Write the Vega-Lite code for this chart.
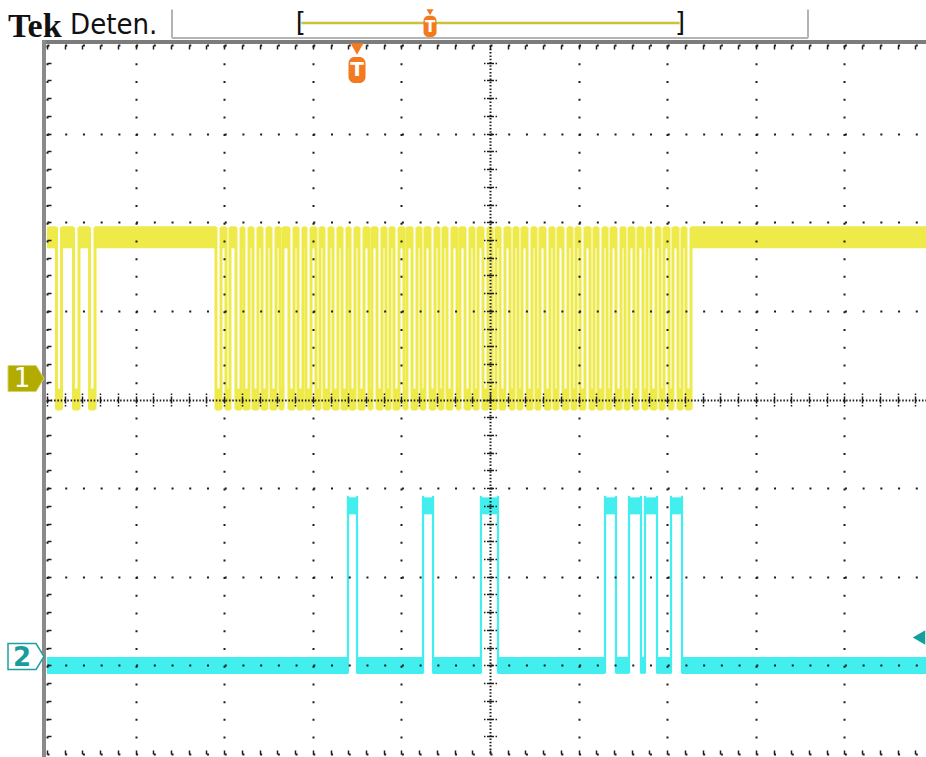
{
  "$schema": "https://vega.github.io/schema/vega-lite/v6.json",
  "width": 879,
  "height": 709,
  "autosize": {"type": "none"},
  "padding": {"left": 47, "top": 45, "right": 0, "bottom": 3},
  "background": "#ffffff",
  "config": {"view": {"stroke": null}},
  "datasets": {
    "ch1": [
      {"t": 0, "v": 1.83}, {"t": 0.107, "v": 0}, {"t": 0.164, "v": 1.83}, {"t": 0.299, "v": 0}, {"t": 0.361, "v": 1.83}, {"t": 0.48, "v": 0}, {"t": 0.542, "v": 1.83},
      {"t": 1.907, "v": 0}, {"t": 1.964, "v": 1.83}, {"t": 2.02, "v": 0}, {"t": 2.065, "v": 1.83}, {"t": 2.133, "v": 0}, {"t": 2.19, "v": 1.83}, {"t": 2.223, "v": 0}, {"t": 2.28, "v": 1.83}, {"t": 2.325, "v": 0}, {"t": 2.381, "v": 1.83},
      {"t": 2.427, "v": 0}, {"t": 2.483, "v": 1.83}, {"t": 2.528, "v": 0}, {"t": 2.585, "v": 1.83}, {"t": 2.63, "v": 0}, {"t": 2.664, "v": 1.83}, {"t": 2.731, "v": 0}, {"t": 2.788, "v": 1.83}, {"t": 2.833, "v": 0}, {"t": 2.889, "v": 1.83},
      {"t": 2.923, "v": 0}, {"t": 2.98, "v": 1.83}, {"t": 3.036, "v": 0}, {"t": 3.081, "v": 1.83}, {"t": 3.126, "v": 0}, {"t": 3.183, "v": 1.83}, {"t": 3.228, "v": 0}, {"t": 3.284, "v": 1.83}, {"t": 3.33, "v": 0}, {"t": 3.386, "v": 1.83},
      {"t": 3.42, "v": 0}, {"t": 3.476, "v": 1.83}, {"t": 3.521, "v": 0}, {"t": 3.578, "v": 1.83}, {"t": 3.634, "v": 0}, {"t": 3.668, "v": 1.83}, {"t": 3.725, "v": 0}, {"t": 3.781, "v": 1.83}, {"t": 3.826, "v": 0}, {"t": 3.871, "v": 1.83},
      {"t": 3.916, "v": 0}, {"t": 3.973, "v": 1.83}, {"t": 4.029, "v": 0}, {"t": 4.063, "v": 1.83}, {"t": 4.12, "v": 0}, {"t": 4.176, "v": 1.83}, {"t": 4.221, "v": 0}, {"t": 4.266, "v": 1.83}, {"t": 4.323, "v": 0}, {"t": 4.379, "v": 1.83},
      {"t": 4.424, "v": 0}, {"t": 4.47, "v": 1.83}, {"t": 4.515, "v": 0}, {"t": 4.571, "v": 1.83}, {"t": 4.628, "v": 0}, {"t": 4.661, "v": 1.83}, {"t": 4.718, "v": 0}, {"t": 4.774, "v": 1.83}, {"t": 4.819, "v": 0}, {"t": 4.865, "v": 1.83},
      {"t": 4.921, "v": 0}, {"t": 4.977, "v": 1.83}, {"t": 5.023, "v": 0}, {"t": 5.068, "v": 1.83}, {"t": 5.113, "v": 0}, {"t": 5.169, "v": 1.83}, {"t": 5.226, "v": 0}, {"t": 5.271, "v": 1.83}, {"t": 5.316, "v": 0}, {"t": 5.361, "v": 1.83},
      {"t": 5.418, "v": 0}, {"t": 5.474, "v": 1.83}, {"t": 5.519, "v": 0}, {"t": 5.564, "v": 1.83}, {"t": 5.621, "v": 0}, {"t": 5.677, "v": 1.83}, {"t": 5.722, "v": 0}, {"t": 5.767, "v": 1.83}, {"t": 5.824, "v": 0}, {"t": 5.88, "v": 1.83},
      {"t": 5.926, "v": 0}, {"t": 5.971, "v": 1.83}, {"t": 6.016, "v": 0}, {"t": 6.072, "v": 1.83}, {"t": 6.129, "v": 0}, {"t": 6.174, "v": 1.83}, {"t": 6.219, "v": 0}, {"t": 6.275, "v": 1.83}, {"t": 6.321, "v": 0}, {"t": 6.366, "v": 1.83},
      {"t": 6.422, "v": 0}, {"t": 6.479, "v": 1.83}, {"t": 6.524, "v": 0}, {"t": 6.569, "v": 1.83}, {"t": 6.625, "v": 0}, {"t": 6.67, "v": 1.83}, {"t": 6.727, "v": 0}, {"t": 6.772, "v": 1.83}, {"t": 6.817, "v": 0}, {"t": 6.874, "v": 1.83},
      {"t": 6.919, "v": 0}, {"t": 6.964, "v": 1.83}, {"t": 7.02, "v": 0}, {"t": 7.065, "v": 1.83}, {"t": 7.122, "v": 0}, {"t": 7.167, "v": 1.83}, {"t": 7.212, "v": 0}, {"t": 7.269, "v": 1.83},
      {"t": 9.93, "v": 1.83}
    ],
    "ch2": [
      {"t": 0, "v": -3},
      {"t": 3.397, "v": -1.2}, {"t": 3.499, "v": -3}, {"t": 4.244, "v": -1.2}, {"t": 4.357, "v": -3},
      {"t": 4.898, "v": -1.2}, {"t": 5.09, "v": -3},
      {"t": 6.298, "v": -1.2}, {"t": 6.422, "v": -3}, {"t": 6.569, "v": -1.2}, {"t": 6.704, "v": -3},
      {"t": 6.749, "v": -1.2}, {"t": 6.885, "v": -3}, {"t": 7.043, "v": -1.2}, {"t": 7.167, "v": -3},
      {"t": 9.93, "v": -3}
    ]
  },
  "resolve": {"axis": {"x": "independent", "y": "independent"}},
  "layer": [
    {
      "data": {"name": "ch1"},
      "transform": [
        {"window": [{"op": "lead", "field": "t", "as": "t1"}], "sort": [{"field": "t"}]},
        {"filter": "datum.t1 != null"}
      ],
      "mark": {"type": "rect", "color": "#eeea4a", "yOffset": -11, "y2Offset": 11},
      "encoding": {
        "x": {
          "field": "t", "type": "quantitative",
          "scale": {"domain": [0, 9.921], "nice": false, "zero": false},
          "axis": {
            "orient": "bottom",
            "values": [0, 0.2, 0.4, 0.6, 0.8, 1, 1.2, 1.4, 1.6, 1.8, 2, 2.2, 2.4, 2.6, 2.8, 3, 3.2, 3.4, 3.6, 3.8, 4, 4.2, 4.4, 4.6, 4.8, 5, 5.2, 5.4, 5.6, 5.8, 6, 6.2, 6.4, 6.6, 6.8, 7, 7.2, 7.4, 7.6, 7.8, 8, 8.2, 8.4, 8.6, 8.8, 9, 9.2, 9.4, 9.6, 9.8],
            "grid": true, "gridColor": "#1c1c1c", "gridWidth": 1.5,
            "gridDash": [4, 344, 1.5, 1.5, 7, 1.5, 1.5, 344, 4],
            "domain": false, "ticks": false, "labels": false, "title": null, "zindex": 1
          }
        },
        "x2": {"field": "t1"},
        "y": {
          "field": "v", "type": "quantitative",
          "scale": {"domain": [-4, 4], "nice": false, "zero": false},
          "axis": {
            "orient": "left",
            "values": [-3.8, -3.6, -3.4, -3.2, -3, -2.8, -2.6, -2.4, -2.2, -2, -1.8, -1.6, -1.4, -1.2, -1, -0.8, -0.6, -0.4, -0.2, 0, 0.2, 0.4, 0.6, 0.8, 1, 1.2, 1.4, 1.6, 1.8, 2, 2.2, 2.4, 2.6, 2.8, 3, 3.2, 3.4, 3.6, 3.8],
            "grid": true, "gridColor": "#1c1c1c", "gridWidth": 1.5,
            "gridDash": [4, 432.5, 1.5, 1.5, 7, 1.5, 1.5, 2000],
            "domain": false, "ticks": false, "labels": false, "title": null, "zindex": 1
          }
        },
        "y2": {"field": "v"}
      }
    },
    {
      "data": {"name": "ch1"},
      "transform": [
        {"window": [{"op": "lag", "field": "v", "as": "pv"}], "sort": [{"field": "t"}]},
        {"filter": "datum.pv != null && abs(datum.v - datum.pv) > 0.5"}
      ],
      "mark": {"type": "rule", "color": "#eeea4a", "strokeWidth": 3, "yOffset": 10, "y2Offset": -10},
      "encoding": {
        "x": {"field": "t", "type": "quantitative", "axis": null},
        "y": {"datum": 0, "axis": null},
        "y2": {"datum": 1.83}
      }
    },
    {
      "data": {"name": "ch2"},
      "transform": [
        {"window": [{"op": "lead", "field": "t", "as": "t1"}], "sort": [{"field": "t"}]},
        {"filter": "datum.t1 != null"}
      ],
      "mark": {"type": "rect", "color": "#42eeee", "yOffset": -8.5, "y2Offset": 8.5},
      "encoding": {
        "x": {
          "field": "t", "type": "quantitative",
          "scale": {"domain": [0, 9.921], "nice": false, "zero": false},
          "axis": {
            "orient": "bottom",
            "values": [0, 1, 2, 3, 4, 5, 6, 7, 8, 9],
            "grid": true, "gridColor": "#1c1c1c", "gridWidth": 2,
            "gridDash": {"condition": {"test": "datum.value == 5", "value": [1.5, 1.8]}, "value": [2, 15.72]},
            "domain": false, "ticks": false, "labels": false, "title": null, "zindex": 1
          }
        },
        "x2": {"field": "t1"},
        "y": {
          "field": "v", "type": "quantitative",
          "scale": {"domain": [-4, 4], "nice": false, "zero": false},
          "axis": {
            "orient": "left",
            "values": [-4, -3, -2, -1, 0, 1, 2, 3, 4],
            "grid": true, "gridColor": "#1c1c1c", "gridWidth": 2,
            "gridDash": {"condition": {"test": "datum.value == 0", "value": [1.5, 1.8]}, "value": [2, 15.72]},
            "domain": false, "ticks": false, "labels": false, "title": null, "zindex": 1
          }
        },
        "y2": {"field": "v"}
      }
    },
    {
      "data": {"name": "ch2"},
      "transform": [
        {"window": [{"op": "lag", "field": "v", "as": "pv"}], "sort": [{"field": "t"}]},
        {"filter": "datum.pv != null && abs(datum.v - datum.pv) > 0.5"}
      ],
      "mark": {"type": "rule", "color": "#42eeee", "strokeWidth": 2.2, "yOffset": 8, "y2Offset": -10},
      "encoding": {
        "x": {"field": "t", "type": "quantitative", "axis": null},
        "y": {"datum": -3, "axis": null},
        "y2": {"datum": -1.2}
      }
    },
    {
      "data": {"values": [{}]},
      "mark": {"type": "rule", "color": "#7c7c7c", "strokeWidth": 4, "yOffset": -3, "xOffset": -5},
      "encoding": {
        "x": {"datum": 0, "axis": null},
        "x2": {"datum": 9.921},
        "y": {"datum": 4, "axis": null}
      }
    },
    {
      "data": {"values": [{}]},
      "mark": {"type": "rule", "color": "#8a8a8a", "strokeWidth": 4, "xOffset": -3, "yOffset": -5, "y2Offset": 8},
      "encoding": {
        "x": {"datum": 0, "axis": null},
        "y": {"datum": 4, "axis": null},
        "y2": {"datum": -4}
      }
    },
    {
      "data": {"values": [{}]},
      "mark": {"type": "point", "shape": "M-1,-0.72L0.56,-0.72L1,0L0.56,0.72L-1,0.72Z", "size": 1296, "filled": true, "fill": "#b2ab00", "stroke": "#d8d26a", "strokeWidth": 1, "opacity": 1, "xOffset": -21},
      "encoding": {"x": {"datum": 0, "axis": null}, "y": {"datum": 0.237, "axis": null}}
    },
    {
      "data": {"values": [{}]},
      "mark": {"type": "text", "text": "1", "color": "#ffffff", "font": "DejaVu Sans", "fontSize": 26, "align": "center", "baseline": "middle", "xOffset": -25, "yOffset": 1},
      "encoding": {"x": {"datum": 0, "axis": null}, "y": {"datum": 0.237, "axis": null}}
    },
    {
      "data": {"values": [{}]},
      "mark": {"type": "point", "shape": "M-1,-0.72L0.56,-0.72L1,0L0.56,0.72L-1,0.72Z", "size": 1296, "filled": true, "fill": "#ffffff", "stroke": "#1ea0a0", "strokeWidth": 1.5, "opacity": 1, "xOffset": -21},
      "encoding": {"x": {"datum": 0, "axis": null}, "y": {"datum": -2.9, "axis": null}}
    },
    {
      "data": {"values": [{}]},
      "mark": {"type": "text", "text": "2", "color": "#1a9c9c", "font": "DejaVu Sans", "fontSize": 26, "fontWeight": "bold", "align": "center", "baseline": "middle", "xOffset": -25, "yOffset": 1},
      "encoding": {"x": {"datum": 0, "axis": null}, "y": {"datum": -2.9, "axis": null}}
    },
    {
      "data": {"values": [{}]},
      "mark": {"type": "point", "shape": "triangle-left", "size": 210, "filled": true, "color": "#149e9e", "opacity": 1, "xOffset": -7},
      "encoding": {"x": {"datum": 9.921, "axis": null}, "y": {"datum": -2.686, "axis": null}}
    },
    {
      "data": {"values": [{}]},
      "mark": {"type": "point", "shape": "triangle-down", "size": 170, "filled": true, "color": "#f47a1f", "opacity": 1, "yOffset": 4},
      "encoding": {"x": {"datum": 3.499, "axis": null}, "y": {"datum": 4, "axis": null}}
    },
    {
      "data": {"values": [{}]},
      "mark": {"type": "rect", "color": "#f47a1f", "cornerRadius": 6, "xOffset": -8.5, "x2Offset": 8.5, "yOffset": 12, "y2Offset": 38},
      "encoding": {"x": {"datum": 3.499, "axis": null}, "x2": {"datum": 3.499}, "y": {"datum": 4, "axis": null}, "y2": {"datum": 4}}
    },
    {
      "data": {"values": [{}]},
      "mark": {"type": "text", "text": "T", "color": "#ffffff", "font": "DejaVu Sans", "fontSize": 20, "fontWeight": "bold", "align": "center", "baseline": "middle", "yOffset": 25},
      "encoding": {"x": {"datum": 3.499, "axis": null}, "y": {"datum": 4, "axis": null}}
    },
    {
      "data": {"values": [{}]},
      "mark": {"type": "text", "text": "Tek", "color": "#111111", "font": "Liberation Serif", "fontSize": 34, "fontWeight": "bold", "align": "left", "baseline": "alphabetic"},
      "encoding": {"x": {"datum": -0.44, "axis": null}, "y": {"datum": 4.095, "axis": null}}
    },
    {
      "data": {"values": [{}]},
      "mark": {"type": "text", "text": "Deten.", "color": "#111111", "font": "DejaVu Sans Condensed, Liberation Sans Narrow, Roboto, sans-serif", "fontSize": 29, "align": "left", "baseline": "alphabetic"},
      "encoding": {"x": {"datum": 0.26, "axis": null}, "y": {"datum": 4.12, "axis": null}}
    },
    {
      "data": {"values": [{}]},
      "mark": {"type": "rule", "color": "#b4b4b4", "strokeWidth": 2},
      "encoding": {"x": {"datum": 1.411, "axis": null}, "y": {"datum": 4.4, "axis": null}, "y2": {"datum": 4.08}}
    },
    {
      "data": {"values": [{}]},
      "mark": {"type": "rule", "color": "#b4b4b4", "strokeWidth": 2},
      "encoding": {"x": {"datum": 1.411, "axis": null}, "x2": {"datum": 8.589}, "y": {"datum": 4.08, "axis": null}}
    },
    {
      "data": {"values": [{}]},
      "mark": {"type": "rule", "color": "#b4b4b4", "strokeWidth": 2},
      "encoding": {"x": {"datum": 8.589, "axis": null}, "y": {"datum": 4.4, "axis": null}, "y2": {"datum": 4.08}}
    },
    {
      "data": {"values": [{}]},
      "mark": {"type": "rule", "color": "#c8c23c", "strokeWidth": 2.5},
      "encoding": {"x": {"datum": 2.87, "axis": null}, "x2": {"datum": 7.14}, "y": {"datum": 4.249, "axis": null}}
    },
    {
      "data": {"values": [{}]},
      "mark": {"type": "text", "text": "[", "color": "#111111", "font": "DejaVu Sans", "fontSize": 26, "align": "center", "baseline": "middle"},
      "encoding": {"x": {"datum": 2.866, "axis": null}, "y": {"datum": 4.249, "axis": null}}
    },
    {
      "data": {"values": [{}]},
      "mark": {"type": "text", "text": "]", "color": "#111111", "font": "DejaVu Sans", "fontSize": 26, "align": "center", "baseline": "middle"},
      "encoding": {"x": {"datum": 7.146, "axis": null}, "y": {"datum": 4.249, "axis": null}}
    },
    {
      "data": {"values": [{}]},
      "mark": {"type": "point", "shape": "triangle-down", "size": 50, "filled": true, "color": "#f47a1f", "opacity": 1},
      "encoding": {"x": {"datum": 4.323, "axis": null}, "y": {"datum": 4.37, "axis": null}}
    },
    {
      "data": {"values": [{}]},
      "mark": {"type": "rect", "color": "#f47a1f", "cornerRadius": 5, "xOffset": -6.5, "x2Offset": 6.5},
      "encoding": {"x": {"datum": 4.323, "axis": null}, "x2": {"datum": 4.323}, "y": {"datum": 4.33, "axis": null}, "y2": {"datum": 4.09}}
    },
    {
      "data": {"values": [{}]},
      "mark": {"type": "text", "text": "T", "color": "#ffffff", "font": "DejaVu Sans", "fontSize": 15, "fontWeight": "bold", "align": "center", "baseline": "middle"},
      "encoding": {"x": {"datum": 4.323, "axis": null}, "y": {"datum": 4.205, "axis": null}}
    }
  ]
}
